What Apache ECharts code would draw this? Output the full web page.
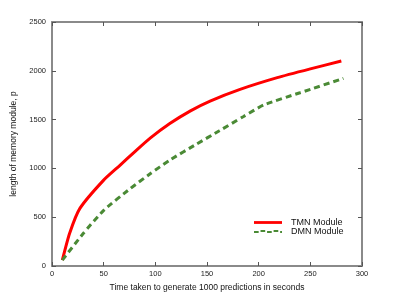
<!DOCTYPE html>
<html><head><meta charset="utf-8">
<script src="https://cdn.jsdelivr.net/npm/echarts@6/dist/echarts.min.js"></script>
<style>html,body{margin:0;padding:0;background:#fff}#c{width:399px;height:299px}</style>
</head><body><div id="c"></div>
<script>
const tmnX = [10, 17, 27, 50, 66, 80, 95, 114, 134, 153, 182, 218, 250, 280];
const tmnY = [60, 333, 590, 880, 1034, 1170, 1310, 1460, 1590, 1690, 1810, 1930, 2020, 2100];
const dmnX = [10, 30, 50, 76, 95, 114, 140, 162, 185, 205, 240, 282];
const dmnY = [60, 330, 570, 795, 945, 1085, 1250, 1385, 1530, 1650, 1775, 1922];
const xTicks = [0, 50, 100, 150, 200, 250, 300];
const yTicks = [0, 500, 1000, 1500, 2000, 2500];
const names = ['TMN Module', 'DMN Module'];

const font = 'Liberation Sans, Arial, sans-serif';
const axisLine = {show: true, onZero: false, lineStyle: {color: '#8a8a8a', width: 2}};
const tick = {show: true, inside: true, length: 4, lineStyle: {color: '#555', width: 1}};
const dashIcon = 'path://M0,1H5V3H0Z M7,0H12V2H7Z M14,1H19V3H14Z M21,0H26V2H21Z M28,1H30V3H28Z';
const solidIcon = 'path://M0,0H30V3H0Z';
const chart = echarts.init(document.getElementById('c'), null, {renderer: 'canvas'});
chart.setOption({
  animation: false,
  grid: {left: 52, right: 37, top: 22, bottom: 33},
  legend: {
    data: [{name: names[0], icon: solidIcon}, {name: names[1], icon: dashIcon}],
    orient: 'vertical', left: 249, top: 213, itemWidth: 28, itemHeight: 4, itemGap: 0,
    textStyle: {fontFamily: font, fontSize: 9, lineHeight: 9, color: '#111', padding: [0, 0, 0, 4]}
  },
  xAxis: [{
    type: 'value', min: xTicks[0], max: xTicks[xTicks.length - 1], interval: 50,
    name: 'Time taken to generate 1000 predictions in seconds', nameLocation: 'middle', nameGap: 17,
    nameTextStyle: {fontFamily: font, fontSize: 8.5, color: '#111'},
    axisLine: axisLine, axisTick: tick, splitLine: {show: false},
    axisLabel: {fontFamily: font, fontSize: 7.5, color: '#222', margin: 4, formatter: v => String(v)}
  }, {
    type: 'value', position: 'top', min: xTicks[0], max: xTicks[xTicks.length - 1], interval: 50,
    axisLine: axisLine, axisTick: tick, splitLine: {show: false}, axisLabel: {show: false}
  }],
  yAxis: [{
    type: 'value', min: yTicks[0], max: yTicks[yTicks.length - 1], interval: 500,
    name: 'length of memory module, p', nameLocation: 'middle', nameGap: 25,
    nameTextStyle: {fontFamily: font, fontSize: 8.5, color: '#111'},
    axisLine: axisLine, axisTick: tick, splitLine: {show: false},
    axisLabel: {fontFamily: font, fontSize: 7.5, color: '#222', margin: 6, formatter: v => String(v)}
  }, {
    type: 'value', position: 'right', min: yTicks[0], max: yTicks[yTicks.length - 1], interval: 500,
    axisLine: axisLine, axisTick: tick, splitLine: {show: false}, axisLabel: {show: false}
  }],
  series: [{
    name: names[0], type: 'line', smooth: 0.2, symbol: 'none',
    data: tmnX.map((x, i) => [x, tmnY[i]]),
    lineStyle: {color: '#ff0000', width: 3, join: 'round'}, itemStyle: {color: '#ff0000'}
  }, {
    name: names[1], type: 'line', smooth: 0.2, symbol: 'none',
    data: dmnX.map((x, i) => [x, dmnY[i]]),
    lineStyle: {color: '#4a8a35', width: 3, type: [6, 4]}, itemStyle: {color: '#4a8a35'}
  }]
});
</script></body></html>
